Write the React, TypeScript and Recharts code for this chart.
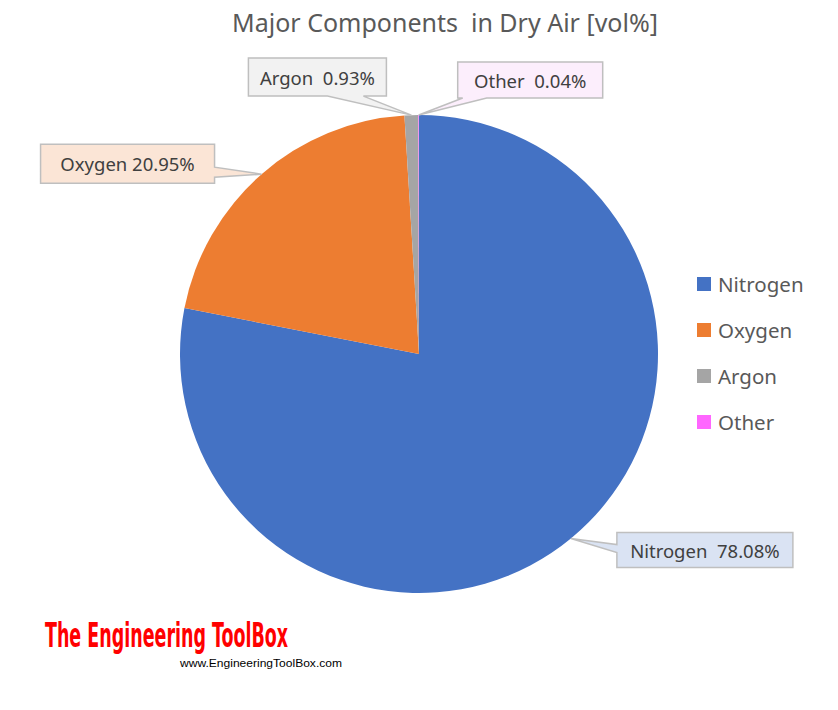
import { PieChart, Pie, Cell, Legend } from "recharts";

const components = ["Nitrogen", "Oxygen", "Argon", "Other"];
const volPercent = [78.08, 20.95, 0.93, 0.04];
const labelText = ["Nitrogen  78.08%", "Oxygen 20.95%", "Argon  0.93%", "Other  0.04%"];

const colors = ["#4472C4", "#ED7D31", "#A5A5A5", "#FF66FF"];
const boxFills = ["#DAE3F3", "#FBE5D6", "#F2F2F2", "#FCEEFC"];

// callout box placement relative to the slice tip
const callouts = [
    { dx: 46, dy: -6, w: 176, h: 35, edge: "left", a: 12, b: 20 },
    { dx: -221, dy: -30, w: 174, h: 39, edge: "right", a: 23, b: 33 },
    { dx: -163, dy: -57, w: 138, h: 38, edge: "bottom", a: 79, b: 115 },
    { dx: 39, dy: -53, w: 145, h: 36, edge: "bottom", a: 5, b: 29 },
];

const data = components.map((name, i) => ({ name, value: volPercent[i] }));

const FONT = "'Noto Sans', sans-serif";
const RAD = Math.PI / 180;

const calloutPath = (x: number, y: number, c: any, tx: number, ty: number) => {
    const p = (px: number, py: number) => `${x + px},${y + py}`;
    const tip = `${tx},${ty}`;
    const { w, h, a, b } = c;
    let pts: string[];
    if (c.edge === "right") {
        pts = [p(0, 0), p(w, 0), p(w, a), tip, p(w, b), p(w, h), p(0, h)];
    } else if (c.edge === "bottom") {
        pts = [p(0, 0), p(w, 0), p(w, h), p(b, h), tip, p(a, h), p(0, h)];
    } else {
        pts = [p(0, 0), p(w, 0), p(w, h), p(0, h), p(0, b), tip, p(0, a)];
    }
    return "M" + pts.join("L") + "Z";
};

const renderCallout = (props: any) => {
    const { cx, cy, midAngle, outerRadius, index } = props;
    const tx = cx + outerRadius * Math.cos(-midAngle * RAD);
    const ty = cy + outerRadius * Math.sin(-midAngle * RAD);
    const c = callouts[index];
    const x = tx + c.dx;
    const y = ty + c.dy;
    return (
        <g key={`callout-${index}`}>
            <path d={calloutPath(x, y, c, tx, ty)} fill={boxFills[index]} stroke="#BFBFBF" strokeWidth={1.5} />
            <text
                x={x + c.w / 2}
                y={y + c.h / 2}
                textAnchor="middle"
                dominantBaseline="central"
                fontFamily={FONT}
                fontSize={18.5}
                fill="#404040"
                style={{ whiteSpace: "pre" }}
            >
                {labelText[index]}
            </text>
        </g>
    );
};

const renderLegend = () => (
    <div style={{ fontFamily: FONT }}>
        {components.map((name, i) => (
            <div key={name} style={{ display: "flex", alignItems: "center", height: 46 }}>
                <span style={{ width: 14, height: 14, background: colors[i], marginRight: 7 }} />
                <span style={{ fontSize: 20.5, color: "#595959" }}>{name}</span>
            </div>
        ))}
    </div>
);

export default function App() {
    return (
        <div style={{ position: "absolute", left: 0, top: 0, width: 838, height: 710, background: "#fff" }}>
            <svg width={838} height={710} style={{ position: "absolute", left: 0, top: 0 }}>
                <text x={445} y={22} textAnchor="middle" dominantBaseline="central" fontFamily={FONT} fontSize={25} fill="#595959" style={{ whiteSpace: "pre" }}>
                    Major Components  in Dry Air [vol%]
                </text>
                <text x={45} y={647} textLength={243} lengthAdjust="spacingAndGlyphs" fontFamily="'DejaVu Sans Condensed', 'DejaVu Sans', sans-serif" fontWeight="bold" fontSize={34} fill="#FF0000">
                    The Engineering ToolBox
                </text>
                <text x={180} y={667} textLength={162} lengthAdjust="spacingAndGlyphs" fontFamily="'Liberation Sans', sans-serif" fontSize={11} fill="#000">
                    www.EngineeringToolBox.com
                </text>
            </svg>
            <PieChart
                width={838}
                height={710}
                margin={{ top: 0, right: 0, bottom: 0, left: 0 }}
                style={{ position: "absolute", left: 0, top: 0 }}
            >
                <Pie
                    data={data}
                    dataKey="value"
                    nameKey="name"
                    cx={419}
                    cy={354}
                    outerRadius={239}
                    startAngle={90}
                    endAngle={-270}
                    stroke="none"
                    label={renderCallout}
                    labelLine={false}
                    isAnimationActive={false}
                >
                    {data.map((d, i) => (
                        <Cell key={d.name} fill={colors[i]} />
                    ))}
                </Pie>
                <Legend
                    layout="vertical"
                    content={renderLegend}
                    wrapperStyle={{ position: "absolute", left: 697, top: 261, width: 130 }}
                />
            </PieChart>
        </div>
    );
}
